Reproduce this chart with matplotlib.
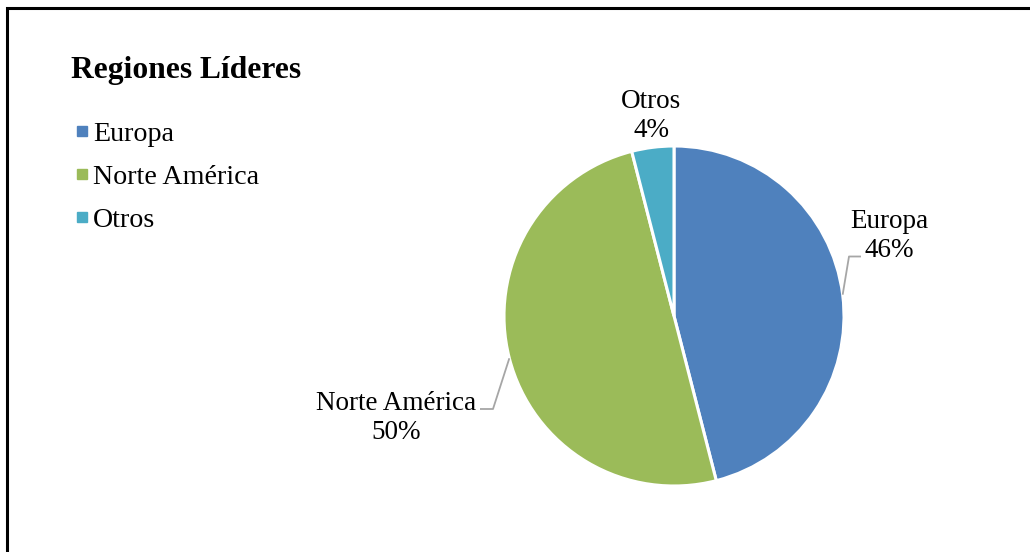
import numpy as np
import matplotlib
matplotlib.use("Agg")
import matplotlib.pyplot as plt
from matplotlib.lines import Line2D

# Chart data
regions = ["Europa", "Norte América", "Otros"]
shares = [46, 50, 4]
colors = ["#4F81BD", "#9BBB59", "#4BACC6"]
title = "Regiones Líderes"

plt.rcParams["font.family"] = ["Liberation Serif", "DejaVu Serif"]

W, H = 1030, 552
fig = plt.figure(figsize=(W / 100, H / 100), dpi=100)
ax = fig.add_axes([0, 0, 1, 1])

# Pie geometry (in pixel units of the canvas)
cx, cy, r = 674, H - 316, 170
wedges, _ = ax.pie(shares, colors=colors, startangle=90, counterclock=False,
                   center=(cx, cy), radius=r, frame=True,
                   wedgeprops=dict(edgecolor="white", linewidth=2.2))
ax.set_xlim(0, W)
ax.set_ylim(0, H)
ax.set_aspect("equal")
ax.axis("off")

# Data labels with optional elbow leader lines
label_pos = {
    "Europa": (889, H - 236),
    "Norte América": (396, H - 418),
    "Otros": (651, H - 116),
}
leaders = {
    "Europa": [(849, H - 256.5), (861, H - 256.5)],
    "Norte América": [(493, H - 409), (480, H - 409)],
}
total = float(sum(shares))
for w, name, val in zip(wedges, regions, shares):
    ax.text(*label_pos[name], f"{name}\n{val / total:.0%}", ha="center",
            va="center", fontsize=19.5, linespacing=1.17, color="black")
    if name in leaders:
        mid = np.deg2rad((w.theta1 + w.theta2) / 2)
        ex, ey = cx + r * np.cos(mid), cy + r * np.sin(mid)
        pts = [(ex, ey)] + leaders[name]
        ax.plot([p[0] for p in pts], [p[1] for p in pts], color="#A6A6A6",
                lw=1.3, solid_capstyle="butt")

# Title and legend
fig.text(71 / W, 1 - 78 / H, title, fontsize=22.7, fontweight="bold",
         va="baseline", ha="left")
handles = [Line2D([], [], marker="s", linestyle="none", markersize=6.8,
                  markerfacecolor=c, markeredgecolor=c) for c in colors]
leg = ax.legend(handles, regions, loc="upper left",
                bbox_to_anchor=(75 / W, 1 - 121 / H), frameon=False,
                fontsize=20.2, handlelength=0.5, handletextpad=0.15,
                labelspacing=0.63, borderaxespad=0, borderpad=0)

# Outer frame (top and left edges)
ax.plot([7, 7, W], [0, H - 7.5, H - 7.5], color="black", lw=2.2,
        solid_joinstyle="miter", clip_on=False)

fig.savefig("out.png", dpi=100)
